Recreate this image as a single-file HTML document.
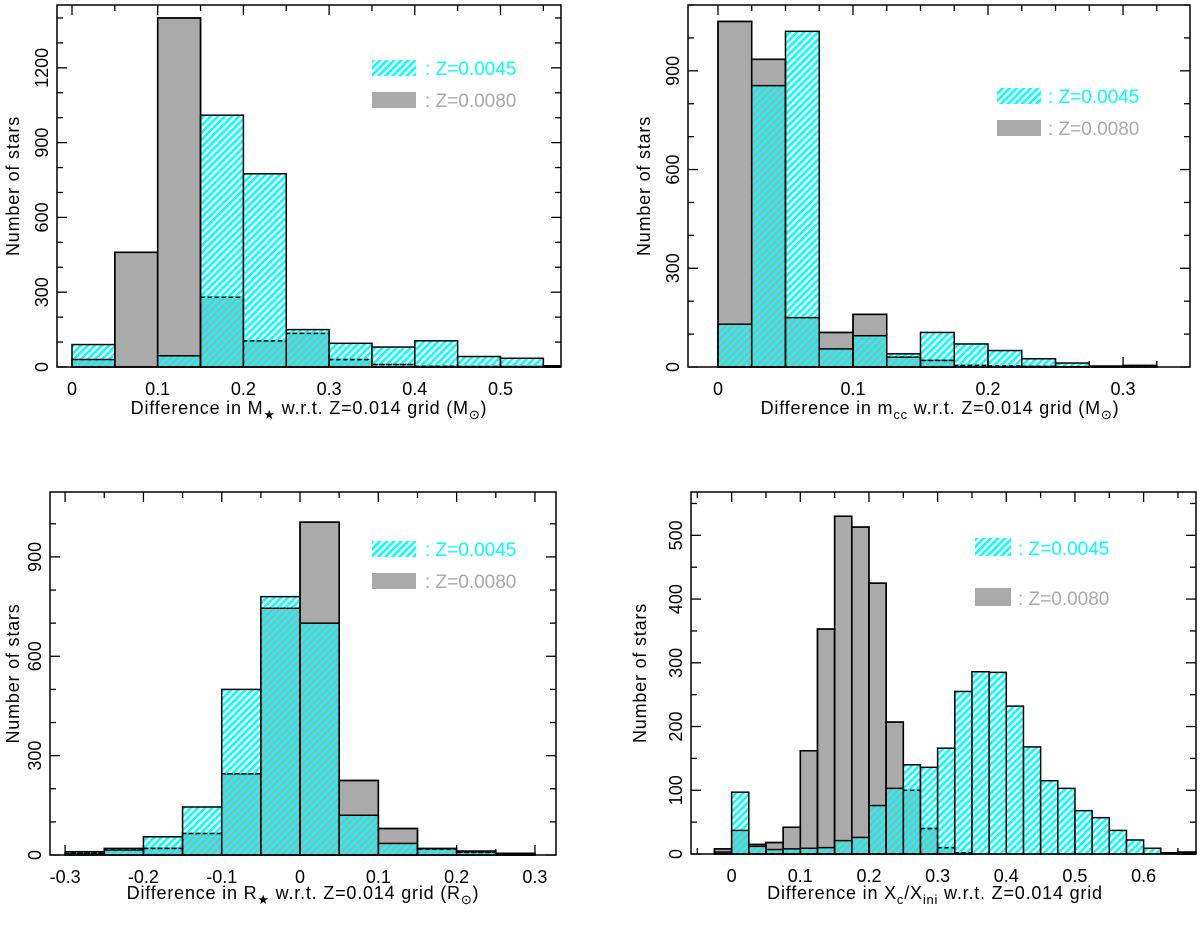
<!DOCTYPE html>
<html><head><meta charset="utf-8">
<style>
body{margin:0;background:#fff;}
svg{display:block;font-family:"Liberation Sans",sans-serif;}
</style></head>
<body>
<svg id="c" width="1200" height="925">
<defs>
<pattern id="hatch" patternUnits="userSpaceOnUse" width="5" height="5" patternTransform="rotate(45)">
<rect x="0" y="0" width="2.6" height="5" fill="#00ffff"/>
</pattern>
</defs>
</svg>
<script>
// Panel A: stellar mass difference
const aEdges0 = 0, aBin = 0.05;
const aCyan = [90,0,45,1010,775,150,95,80,105,42,35,5];
const aGray = [30,460,1400,280,105,135,30,10,3,2,2,5];
const aXTicks = [0,0.1,0.2,0.3,0.4,0.5];
const aYTicks = [0,300,600,900,1200];
// Panel B: convective core mass difference
const bEdges0 = 0, bBin = 0.025;
const bCyan = [130,855,1020,55,95,40,105,70,50,25,12,3,5];
const bGray = [1050,935,150,105,160,30,20,5,3,2,1,1,2];
const bXTicks = [0,0.1,0.2,0.3];
const bYTicks = [0,300,600,900];
// Panel C: radius difference
const cEdges0 = -0.3, cBin = 0.05;
const cCyan = [10,20,55,145,500,780,700,120,35,20,12,5];
const cGray = [5,15,20,65,245,745,1005,225,80,18,8,5];
const cXTicks = [-0.3,-0.2,-0.1,0,0.1,0.2,0.3];
const cYTicks = [0,300,600,900];
// Panel D: Xc/Xini difference
const dEdges0 = -0.025, dBin = 0.025;
const dCyan = [3,97,12,7,8,9,10,21,26,76,103,140,136,166,255,286,285,232,168,115,103,68,57,37,22,9,2,2];
const dGray = [8,37,15,18,42,162,353,530,513,425,207,100,40,10,2,0,0,0,0,0,0,0,0,0,0,0,0,3];
const dXTicks = [0,0.1,0.2,0.3,0.4,0.5,0.6];
const dYTicks = [0,100,200,300,400,500];

const NS="http://www.w3.org/2000/svg";
const svg=document.getElementById('c');
const defs=svg.querySelector('defs');
function mk(tag,attrs,parent){const e=document.createElementNS(NS,tag);for(const k in attrs)e.setAttribute(k,attrs[k]);(parent||svg).appendChild(e);return e;}

const panels=[
 {key:'mass',edges0:aEdges0,bin:aBin,cyan:aCyan,gray:aGray,xt:aXTicks,yt:aYTicks,xmin:-0.0175,xmax:0.5706,ymin:0,ymax:1452,L:57,R:561,T:5,B:367,xminor:0.05,yminor:100,
  title:'Difference in M<tspan font-size="13" dy="5">★</tspan><tspan dy="-5"> w.r.t. Z=0.014 grid (M</tspan><tspan font-size="13" dy="5">⊙</tspan><tspan dy="-5">)</tspan>',tx:309,ty:414,ytx:14,leg:{x:372,y1:60,y2:92,sw:44,h:16,tx:425}},
 {key:'core',edges0:bEdges0,bin:bBin,cyan:bCyan,gray:bGray,xt:bXTicks,yt:bYTicks,xmin:-0.0222,xmax:0.3496,ymin:0,ymax:1100,L:688,R:1190,T:5,B:367,xminor:0.025,yminor:100,
  title:'Difference in m<tspan font-size="13" dy="5">cc</tspan><tspan dy="-5"> w.r.t. Z=0.014 grid (M</tspan><tspan font-size="13" dy="5">⊙</tspan><tspan dy="-5">)</tspan>',tx:940,ty:414,ytx:645,leg:{x:997,y1:88,y2:120,sw:44,h:16,tx:1048}},
 {key:'radius',edges0:cEdges0,bin:cBin,cyan:cCyan,gray:cGray,xt:cXTicks,yt:cYTicks,xmin:-0.3193,xmax:0.3269,ymin:0,ymax:1096,L:50,R:556,T:492,B:855,xminor:0.05,yminor:100,
  title:'Difference in R<tspan font-size="13" dy="5">★</tspan><tspan dy="-5"> w.r.t. Z=0.014 grid (R</tspan><tspan font-size="13" dy="5">⊙</tspan><tspan dy="-5">)</tspan>',tx:303,ty:899,ytx:14,leg:{x:372,y1:541,y2:573,sw:44,h:16,tx:425}},
 {key:'xc',edges0:dEdges0,bin:dBin,cyan:dCyan,gray:dGray,xt:dXTicks,yt:dYTicks,xmin:-0.0592,xmax:0.6763,ymin:0,ymax:568,L:691,R:1196,T:492,B:854,xminor:0.05,yminor:50,
  title:'Difference in X<tspan font-size="13" dy="5">c</tspan><tspan dy="-5">/X</tspan><tspan font-size="13" dy="5">ini</tspan><tspan dy="-5"> w.r.t. Z=0.014 grid</tspan>',tx:935,ty:899,ytx:641,leg:{x:975,y1:538,y2:588,sw:36,h:18,tx:1018}}
];

panels.forEach((p,pi)=>{
  const g=mk('g',{});
  
  
  const cp=mk('clipPath',{id:'clip'+pi},defs);
  mk('rect',{x:p.L,y:p.T,width:p.R-p.L,height:p.B-p.T+2},cp);
  const bars=mk('g',{'clip-path':'url(#clip'+pi+')'},g);
  
  
  const X=v=>p.L+(v-p.xmin)/(p.xmax-p.xmin)*(p.R-p.L);
  const Y=v=>p.B-(v-p.ymin)/(p.ymax-p.ymin)*(p.B-p.T);
  p.gray.forEach((v,i)=>{
    const x0=X(p.edges0+i*p.bin),x1=X(p.edges0+(i+1)*p.bin);
    if(v<=0)return;
    const r=mk('rect',{x:x0,y:Y(v),width:x1-x0,height:Y(0)-Y(v),fill:'#aaaaaa',stroke:'#000','stroke-width':1.5},bars);
    
    
  });
  p.cyan.forEach((v,i)=>{
    const x0=X(p.edges0+i*p.bin),x1=X(p.edges0+(i+1)*p.bin);
    if(v<=0)return;
    const r=mk('rect',{x:x0,y:Y(v),width:x1-x0,height:Y(0)-Y(v),fill:'url(#hatch)',stroke:'#000','stroke-width':1.5},bars);
    
    
  });
  p.gray.forEach((v,i)=>{
    const x0=X(p.edges0+i*p.bin),x1=X(p.edges0+(i+1)*p.bin);
    if(v<=0)return;
    if(v<p.cyan[i]){
      const l=mk('line',{x1:x0,x2:x1,y1:Y(v),y2:Y(v),stroke:'#000','stroke-width':1.5,'stroke-dasharray':'4,3'},bars);
      
      
    } else {
      const r=mk('rect',{x:x0,y:Y(v),width:x1-x0,height:Y(0)-Y(v),fill:'none',stroke:'#000','stroke-width':1.5},bars);
      
      
    }
  });
  const f=mk('rect',{x:p.L,y:p.T,width:p.R-p.L,height:p.B-p.T,fill:'none',stroke:'#000','stroke-width':1.5},g);
  
  
  const xs=Math.ceil(p.xmin/p.xminor-1e-6);
  for(let k=xs;p.xminor*k<=p.xmax+1e-9;k++){
    const v=k*p.xminor,x=X(v);
    const major=p.xt.some(t=>Math.abs(t-v)<1e-6);
    const len=major?10:6;
    mk('line',{x1:x,x2:x,y1:p.B,y2:p.B-len,stroke:'#000','stroke-width':1.3},g);
    mk('line',{x1:x,x2:x,y1:p.T,y2:p.T+len,stroke:'#000','stroke-width':1.3},g);
  }
  p.xt.forEach(v=>{
    const t=mk('text',{x:X(v),y:p.B+28,'text-anchor':'middle','font-size':18},g);
    t.textContent=String(v);
    
    
  });
  for(let v=0;v<=p.ymax;v+=p.yminor){
    const y=Y(v);
    const major=p.yt.includes(v);
    const len=major?10:6;
    mk('line',{x1:p.L,x2:p.L+len,y1:y,y2:y,stroke:'#000','stroke-width':1.3},g);
    mk('line',{x1:p.R,x2:p.R-len,y1:y,y2:y,stroke:'#000','stroke-width':1.3},g);
  }
  p.yt.forEach(v=>{
    const x=p.L-9,y=Y(v);
    const t=mk('text',{x:x,y:y,'text-anchor':'middle','font-size':18,transform:`rotate(-90 ${x} ${y})`},g);
    t.textContent=String(v);
    
    
  });
  const yt=mk('text',{x:p.ytx,y:(p.T+p.B)/2,'text-anchor':'middle','font-size':18,'letter-spacing':'0.8',transform:`rotate(-90 ${p.ytx} ${(p.T+p.B)/2})`},g);
  yt.setAttribute('dominant-baseline','middle');
  yt.textContent='Number of stars';
  
  
  const xt=mk('text',{x:p.tx,y:p.ty,'text-anchor':'middle','font-size':18,'letter-spacing':'0.8'},g);
  xt.innerHTML=p.title;
  
  
  const L=p.leg;
  const s1=mk('rect',{x:L.x,y:L.y1,width:L.sw,height:L.h,fill:'url(#hatch)'},g);
  
  
  const t1=mk('text',{x:L.tx,y:L.y1+L.h-1,'font-size':19,fill:'#00ffff'},g);
  t1.textContent=': Z=0.0045';
  
  
  const s2=mk('rect',{x:L.x,y:L.y2,width:L.sw,height:L.h,fill:'#aaaaaa'},g);
  
  
  const t2=mk('text',{x:L.tx,y:L.y2+L.h-1,'font-size':19,fill:'#aaaaaa'},g);
  t2.textContent=': Z=0.0080';
  
  
});
</script>
</body></html>
